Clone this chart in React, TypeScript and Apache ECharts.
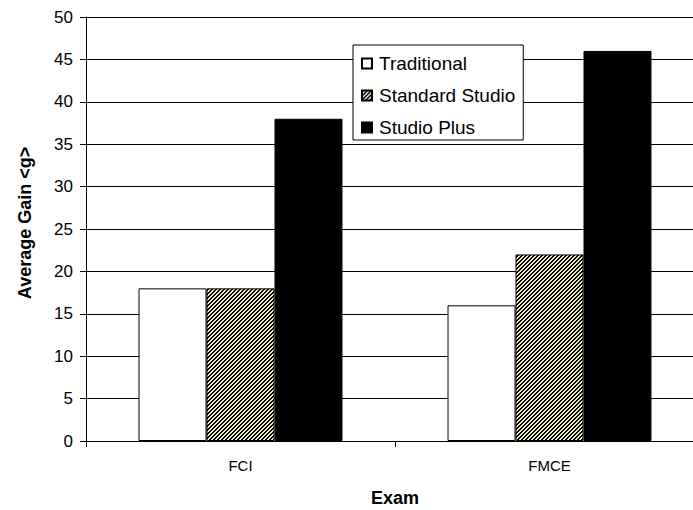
import React, { useEffect, useRef } from "react";
import * as echarts from "echarts";

// Exam categories and the average normalized gain per course format
const exams = ["FCI", "FMCE"];
const traditional = [18, 16];
const standardStudio = [18, 22];
const studioPlus = [38, 46];
const yTicks = { min: 0, max: 50, interval: 5 };

const FONT = "'Liberation Sans', Arial, Helvetica, sans-serif";

// The plot area runs past the right edge of the visible page
const CHART_W = 720;
const CHART_H = 510;

// Pale-yellow / black upward diagonal hatch tile
function makeHatch(): HTMLCanvasElement {
  const c = document.createElement("canvas");
  c.width = 4;
  c.height = 4;
  const ctx = c.getContext("2d")!;
  for (let y = 0; y < 4; y++) {
    for (let x = 0; x < 4; x++) {
      ctx.fillStyle = (x + y) % 4 < 2 ? "#000000" : "#F0F0C0";
      ctx.fillRect(x, y, 1, 1);
    }
  }
  return c;
}

export default function App() {
  const ref = useRef<HTMLDivElement>(null);

  useEffect(() => {
    if (!ref.current) return;
    document.body.style.overflow = "hidden";
    const chart = echarts.init(ref.current, undefined, { renderer: "svg" });
    const hatch = {
      image: makeHatch(),
      repeat: "repeat",
      imageWidth: 4,
      imageHeight: 4,
    } as any;

    const barStyle = (color: any) => ({
      color,
      borderColor: "#000",
      borderWidth: 1,
    });

    chart.setOption({
      animation: false,
      backgroundColor: "#fff",
      textStyle: { fontFamily: FONT },
      grid: { left: 86, top: 17, width: 618, height: 424, containLabel: false },
      legend: {
        orient: "vertical",
        left: 353,
        top: 45,
        padding: [9, 8, 3, 8],
        itemGap: 13,
        itemWidth: 10,
        itemHeight: 10,
        backgroundColor: "#fff",
        borderColor: "#000",
        borderWidth: 1,
        borderRadius: 0,
        icon: "rect",
        textStyle: { fontFamily: FONT, fontSize: 19, color: "#000", padding: [0, 0, 0, 2] },
        data: ["Traditional", "Standard Studio", "Studio Plus"],
      },
      xAxis: {
        type: "category",
        data: exams,
        axisLine: { lineStyle: { color: "#000", width: 1 } },
        axisTick: { show: true, length: 6, lineStyle: { color: "#000" } },
        axisLabel: { fontSize: 15, color: "#000", margin: 17, fontFamily: FONT },
      },
      yAxis: {
        type: "value",
        min: yTicks.min,
        max: yTicks.max,
        interval: yTicks.interval,
        axisLine: { show: true, lineStyle: { color: "#000", width: 1 } },
        axisTick: { show: true, length: 6, lineStyle: { color: "#000" } },
        axisLabel: { fontSize: 17, color: "#000", margin: 13, fontFamily: FONT },
        splitLine: { show: true, lineStyle: { color: "#000", width: 1 } },
      },
      graphic: [
        {
          type: "text",
          x: 25,
          y: 223,
          rotation: Math.PI / 2,
          style: {
            text: "Average Gain <g>",
            font: `bold 18px ${FONT}`,
            fill: "#000",
            align: "center",
            verticalAlign: "middle",
          },
        },
        {
          type: "text",
          x: 395,
          y: 498,
          style: {
            text: "Exam",
            font: `bold 18px ${FONT}`,
            fill: "#000",
            align: "center",
            verticalAlign: "middle",
          },
        },
      ],
      series: [
        {
          name: "Traditional",
          type: "bar",
          data: traditional,
          barGap: "0%",
          barCategoryGap: "34%",
          itemStyle: barStyle("#ffffff"),
        },
        {
          name: "Standard Studio",
          type: "bar",
          data: standardStudio,
          barGap: "0%",
          barCategoryGap: "34%",
          itemStyle: barStyle(hatch),
        },
        {
          name: "Studio Plus",
          type: "bar",
          data: studioPlus,
          barGap: "0%",
          barCategoryGap: "34%",
          itemStyle: barStyle("#000000"),
        },
      ],
    });
    return () => {
      chart.dispose();
    };
  }, []);

  return (
    <div
      ref={ref}
      style={{ position: "fixed", left: 0, top: 0, width: CHART_W, height: CHART_H }}
    />
  );
}
